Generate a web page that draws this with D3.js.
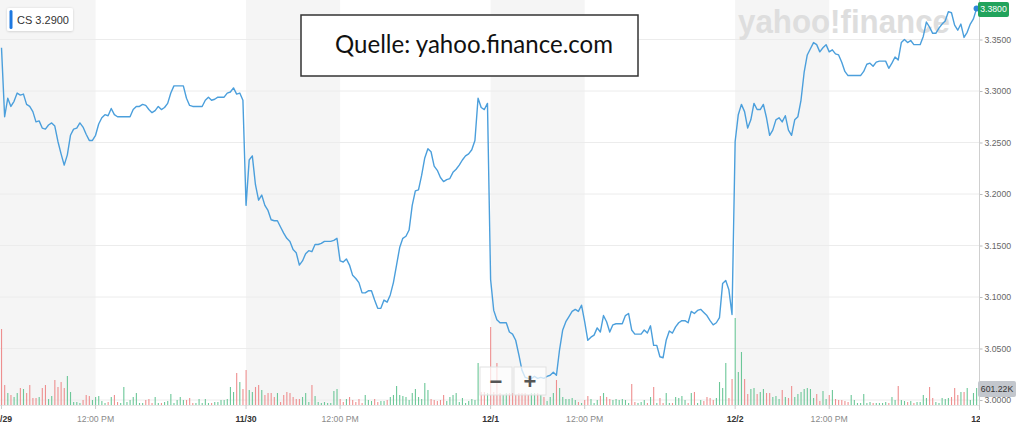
<!DOCTYPE html>
<html><head><meta charset="utf-8">
<script src="https://cdn.jsdelivr.net/npm/d3@7"></script>
<style>html,body{margin:0;padding:0;background:#fff;overflow:hidden}</style>
</head><body>
<svg id="c" width="1024" height="428"></svg>
<script>
// ---------------- DATA ----------------
const symbol = "CS";
const headerPrice = 3.29;
const dayLabels = ["11/29", "11/30", "12/1", "12/2", "12/3"];
const noonLabel = "12:00 PM";
const priceTicks = [3.00, 3.05, 3.10, 3.15, 3.20, 3.25, 3.30, 3.35];
const sourceText = "Quelle: yahoo.finance.com";
const watermarkText = "yahoo!finance";

// 5-minute closing prices, 78 bars per session
const price1129 = [3.342,3.275,3.293,3.285,3.290,3.298,3.296,3.297,3.287,3.285,
 3.280,3.270,3.271,3.264,3.263,3.267,3.269,3.266,3.251,3.239,
 3.228,3.238,3.257,3.263,3.264,3.269,3.265,3.258,3.252,3.252,
 3.257,3.268,3.274,3.277,3.276,3.283,3.277,3.275,3.275,3.275,
 3.275,3.275,3.282,3.285,3.285,3.287,3.286,3.282,3.279,3.281,
 3.285,3.282,3.284,3.288,3.298,3.305,3.305,3.305,3.305,3.293,
 3.286,3.285,3.285,3.285,3.285,3.291,3.294,3.291,3.292,3.294,
 3.294,3.294,3.298,3.299,3.303,3.297,3.298,3.291];
const price1130 = [3.189,3.233,3.237,3.209,3.194,3.199,3.189,3.184,3.175,3.174,
 3.174,3.168,3.162,3.157,3.154,3.146,3.143,3.131,3.135,3.142,
 3.145,3.144,3.151,3.151,3.152,3.154,3.154,3.154,3.155,3.157,
 3.135,3.134,3.137,3.131,3.121,3.118,3.114,3.104,3.104,3.106,
 3.106,3.097,3.089,3.089,3.097,3.095,3.102,3.114,3.131,3.148,
 3.157,3.159,3.165,3.189,3.203,3.204,3.218,3.235,3.244,3.241,
 3.227,3.223,3.216,3.212,3.214,3.215,3.221,3.224,3.228,3.233,
 3.237,3.239,3.243,3.252,3.293,3.284,3.282,3.288];
const price1201 = [3.117,3.087,3.078,3.075,3.075,3.075,3.066,3.064,3.058,3.044,
 3.029,3.022,3.021,3.021,3.023,3.021,3.022,3.021,3.023,3.024,
 3.027,3.024,3.049,3.068,3.076,3.081,3.086,3.088,3.086,3.092,
 3.076,3.058,3.061,3.063,3.070,3.066,3.082,3.076,3.066,3.073,
 3.074,3.074,3.074,3.082,3.084,3.068,3.064,3.064,3.064,3.068,
 3.065,3.072,3.053,3.053,3.042,3.041,3.058,3.067,3.065,3.071,
 3.075,3.077,3.077,3.075,3.086,3.084,3.087,3.088,3.085,3.082,
 3.077,3.073,3.075,3.080,3.113,3.116,3.107,3.083];
const price1202 = [3.251,3.277,3.287,3.280,3.264,3.272,3.288,3.282,3.282,3.287,
 3.274,3.257,3.262,3.272,3.274,3.270,3.276,3.262,3.257,3.272,
 3.275,3.291,3.318,3.335,3.341,3.347,3.345,3.338,3.342,3.345,
 3.338,3.340,3.336,3.335,3.328,3.319,3.315,3.315,3.315,3.315,
 3.315,3.319,3.326,3.327,3.324,3.328,3.329,3.329,3.329,3.322,
 3.327,3.333,3.330,3.347,3.350,3.347,3.349,3.345,3.345,3.345,
 3.353,3.367,3.362,3.356,3.356,3.361,3.365,3.368,3.377,3.376,
 3.364,3.359,3.365,3.352,3.357,3.365,3.370,3.380];

// 5-minute volumes, thousands of shares
const volume1129 = [2688,707,424,354,283,424,601,566,424,707,
 248,248,283,601,707,212,318,884,637,813,
 601,1026,460,106,106,71,177,354,318,177,
 283,318,141,71,106,283,354,106,71,637,
 106,177,283,424,71,71,177,212,71,283,
 71,71,106,141,389,71,177,283,177,177,
 248,71,71,212,71,212,71,71,106,106,
 177,177,212,637,460,1132,813,566];
const volume1130 = [1238,531,460,637,707,531,354,424,424,283,
 424,106,354,460,424,283,212,212,283,424,
 106,707,318,106,71,106,71,71,495,566,
 212,106,212,283,177,106,212,71,354,177,
 141,212,106,141,141,177,283,354,672,354,
 318,283,177,424,566,283,212,778,531,212,
 177,141,177,354,141,283,354,424,106,248,
 71,141,212,177,1486,460,460,424];
const volume1201 = [2759,460,1486,424,354,424,424,424,354,424,
 424,424,354,424,424,424,354,283,141,283,
 424,884,601,283,212,212,248,177,106,71,
 177,318,212,71,177,318,424,283,212,177,
 212,177,212,177,71,743,106,71,106,177,
 71,283,637,71,248,71,424,71,71,283,
 248,318,177,71,424,460,71,177,141,283,
 248,177,248,813,601,1486,248,920];
const volume1202 = [3077,1167,1875,920,389,566,601,389,460,566,
 424,424,283,318,212,531,283,248,672,283,
 389,460,566,601,566,248,389,141,495,212,
 354,531,212,177,177,141,106,354,177,71,
 71,389,71,106,71,71,71,71,106,71,
 283,177,672,177,141,106,141,71,106,106,
 354,248,637,248,106,71,248,212,248,283,
 601,354,460,460,601,177,424,601.22];

// ---------------- CHART ----------------
const prices = [].concat(price1129, price1130, price1201, price1202);
const volumes = [].concat(volume1129, volume1130, volume1201, volume1202);
const barsPerDay = price1129.length;      // 78 five-minute bars (9:30 - 16:00)
const noonBar = 30;                        // 12:00 PM = 150 min after open
const nDays = 4;

const svg = d3.select("#c");
const plotRight = 979.5, baseY = 405;

const x = d3.scaleLinear().domain([0, barsPerDay * nDays]).range([1.5, 979.7]);
const y = d3.scaleLinear().domain([3.0, 3.35]).range([400, 39.5]);
const yv = d3.scaleLinear().domain([0, 3000]).range([baseY, baseY - 3000 / 35.37]);

const FONT = "'Liberation Sans', Arial, Helvetica, sans-serif";

// shaded morning bands (open -> 12:00 PM)
const days = d3.range(nDays);
svg.append("g").selectAll("rect").data(days).join("rect")
  .attr("x", d => d === 0 ? 0 : x(d * barsPerDay))
  .attr("y", 0)
  .attr("width", d => x(d * barsPerDay + noonBar) - (d === 0 ? 0 : x(d * barsPerDay)))
  .attr("height", baseY)
  .attr("fill", "#f5f5f5");

// horizontal grid
svg.append("g").selectAll("line").data(priceTicks).join("line")
  .attr("x1", 0).attr("x2", plotRight)
  .attr("y1", d => y(d)).attr("y2", d => y(d))
  .attr("stroke", "#ececec").attr("stroke-width", 1);

// watermark
svg.append("text")
  .attr("x", 738).attr("y", 33)
  .attr("font-family", FONT).attr("font-weight", "bold")
  .attr("font-size", 34).attr("fill", "#dedede")
  .attr("textLength", 212).attr("lengthAdjust", "spacingAndGlyphs")
  .text(watermarkText);

// volume bars
svg.append("g").selectAll("rect").data(volumes).join("rect")
  .attr("x", (d, i) => x(i) - 0.5)
  .attr("width", 1.1)
  .attr("y", d => yv(d))
  .attr("height", d => baseY - yv(d))
  .attr("fill", (d, i) => (i > 0 && prices[i] >= prices[i - 1]) ? "#6cc798" : "#ee8f8f");

// baseline
svg.append("line").attr("x1", 0).attr("x2", plotRight)
  .attr("y1", baseY + 0.5).attr("y2", baseY + 0.5)
  .attr("stroke", "#e6e6e6");

// price line
const line = d3.line().x((d, i) => x(i)).y(d => y(d));
svg.append("path").datum(prices)
  .attr("d", line).attr("fill", "none")
  .attr("stroke", "#4b9fdc").attr("stroke-width", 1.4)
  .attr("stroke-linejoin", "round");

// last point dot
const lastI = prices.length - 1;
svg.append("circle").attr("cx", x(lastI)).attr("cy", y(prices[lastI]))
  .attr("r", 3).attr("fill", "#2f86d8");

// right axis
const yAxis = d3.axisRight(y).tickValues(priceTicks)
  .tickFormat(d3.format(".4f")).tickSize(3).tickPadding(2);
const ya = svg.append("g").attr("transform", `translate(${plotRight},0)`).call(yAxis);
ya.select(".domain").remove();
ya.selectAll(".tick line").attr("stroke", "#bbb");
ya.selectAll(".tick text").attr("fill", "#666").attr("font-size", 8.7).attr("font-family", FONT);
svg.append("line").attr("x1", plotRight).attr("x2", plotRight)
  .attr("y1", 0).attr("y2", 410).attr("stroke", "#cfcfcf");

// x axis
const clip = svg.append("defs").append("clipPath").attr("id", "xclip");
clip.append("rect").attr("x", 0).attr("y", 395).attr("width", plotRight + 0.5).attr("height", 40);
const xTickVals = [], xTickLab = {};
for (let d = 0; d <= nDays; d++) {
  xTickVals.push(d * barsPerDay); xTickLab[d * barsPerDay] = dayLabels[d];
  if (d < nDays) { xTickVals.push(d * barsPerDay + noonBar); xTickLab[d * barsPerDay + noonBar] = noonLabel; }
}
const xAxis = d3.axisBottom(x).tickValues(xTickVals)
  .tickFormat(v => xTickLab[v]).tickSize(4).tickPadding(7);
const xa = svg.append("g").attr("transform", `translate(0,${baseY})`)
  .attr("clip-path", null).call(xAxis);
xa.attr("clip-path", "url(#xclip)");
xa.select(".domain").remove();
xa.attr("transform", null);
xa.selectAll(".tick").attr("transform", v => `translate(${x(v)},${baseY})`);
xa.selectAll(".tick line").attr("stroke", "#ccc");
xa.selectAll(".tick text").attr("font-size", 8.7).attr("font-family", FONT)
  .attr("fill", v => xTickLab[v] === noonLabel ? "#8a8a8a" : "#333")
  .attr("font-weight", v => xTickLab[v] === noonLabel ? "normal" : "bold");

// last price tag
const fmt4 = d3.format(".4f");
svg.append("rect").attr("x", 978).attr("y", 2).attr("width", 31).attr("height", 15)
  .attr("rx", 2).attr("fill", "#21a35c");
svg.append("text").attr("x", 993.5).attr("y", 9.8).attr("text-anchor", "middle")
  .attr("dominant-baseline", "middle").attr("font-size", 8.7).attr("font-family", FONT)
  .attr("fill", "#fff").text(fmt4(prices[lastI]));

// last volume tag
svg.append("rect").attr("x", 978).attr("y", 381).attr("width", 38).attr("height", 16)
  .attr("rx", 2).attr("fill", "#c3c7cd");
svg.append("text").attr("x", 997).attr("y", 389.5).attr("text-anchor", "middle")
  .attr("dominant-baseline", "middle").attr("font-size", 8.7).attr("font-family", FONT)
  .attr("fill", "#333").text(d3.format(".2f")(volumes[lastI]) + "K");

// symbol badge
const defs = svg.select("defs");
const f = defs.append("filter").attr("id", "sh").attr("x", "-20%").attr("y", "-30%").attr("width", "140%").attr("height", "160%");
f.append("feDropShadow").attr("dx", 0).attr("dy", 0.5).attr("stdDeviation", 1).attr("flood-color", "#000").attr("flood-opacity", 0.18);
svg.append("rect").attr("x", 7).attr("y", 8).attr("width", 66).attr("height", 23)
  .attr("rx", 2).attr("fill", "#fff").attr("filter", "url(#sh)");
svg.append("rect").attr("x", 9.5).attr("y", 10).attr("width", 3).attr("height", 19)
  .attr("rx", 1.5).attr("fill", "#1e78e0");
svg.append("text").attr("x", 17).attr("y", 24).attr("font-size", 11).attr("font-family", FONT)
  .attr("fill", "#333").text(`${symbol} ${fmt4(headerPrice)}`);

// zoom buttons
const btns = [{ t: "\u2212", cx: 496 }, { t: "+", cx: 530 }];
svg.append("g").selectAll("rect").data(btns).join("rect")
  .attr("x", d => d.cx - 16).attr("y", 367).attr("width", 32).attr("height", 28)
  .attr("fill", "#fff").attr("fill-opacity", 0.72).attr("stroke", "#e2e2e2");
svg.append("g").selectAll("text").data(btns).join("text")
  .attr("x", d => d.cx).attr("y", 381).attr("text-anchor", "middle")
  .attr("dominant-baseline", "central").attr("font-size", 22).attr("font-weight", "bold")
  .attr("font-family", FONT).attr("fill", "#555").text(d => d.t);

// source box
svg.append("rect").attr("x", 301).attr("y", 15).attr("width", 337).attr("height", 61)
  .attr("fill", "#fff").attr("stroke", "#333").attr("stroke-width", 1.5);
svg.append("text").attr("x", 335).attr("y", 53)
  .attr("font-family", "Lato, 'Open Sans', sans-serif").attr("font-size", 25)
  .attr("fill", "#111").attr("textLength", 278).attr("lengthAdjust", "spacingAndGlyphs")
  .text(sourceText);
</script>
</body></html>
